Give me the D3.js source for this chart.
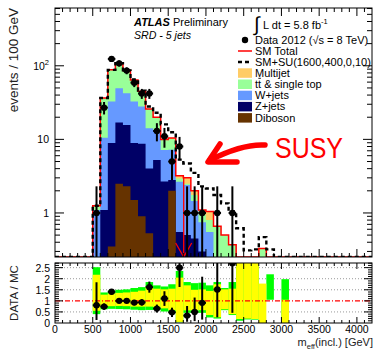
<!DOCTYPE html>
<html>
<head>
<meta charset="utf-8">
<script src="https://cdn.jsdelivr.net/npm/d3@7"></script>
<style>
  html, body { margin: 0; padding: 0; background: #fff; }
  svg { display: block; font-family: "Liberation Sans", Arial, Helvetica, sans-serif; }
</style>
</head>
<body>
<svg id="chart" width="379" height="350"></svg>
<script>
// ---- m_eff bins: lower edges, 100 GeV wide ----
const binLow = d3.range(500, 3000, 100);
const binWidth = 100;

// ---- background expectation per bin (events / 100 GeV), stacked bottom -> top ----
const diboson  = [0, 0, 0.35, 2.5, 2.3, 1.5, 0.9, 0.53, 0, 0, 2.0, 0, 0, 0, 0, 0, 0, 0, 0, 0, 0, 0, 0, 0, 0];
const zjets    = [0, 1.1, 8.55, 14.4, 13.4, 7.4, 7.8, 3.5, 5.26, 2.67, 0.8, 0.55, 0.5, 0.45, 0.3, 0.2, 0, 0, 0, 0, 0, 0, 0, 0, 0];
const wjets    = [1.1, 9.4, 23.8, 32.8, 26.8, 23.8, 19.3, 10.1, 8.2, 4.5, 4.4, 2.1, 1.9, 1.0, 0.45, 0.35, 0, 0, 0, 0, 0, 0, 0, 0, 0];
const ttbar    = [0.15, 26, 55.3, 58.3, 43.5, 31.3, 17, 11.8, 6.5, 2.8, 2.9, 0.3, 0.1, 0.3, 0.2, 0.25, 0.66, 0.5, 0.37, 0.15, 0.1, 0.12, 0.33, 0, 0];
const multijet = [0, 0, 0, 0, 0, 0, 0, 0, 0, 0, 0.3, 0.25, 0.5, 0.25, 0.15, 0.25, 0, 0, 0, 0, 0, 0, 0, 0, 0];

// ---- SM + SU(1600,400,0,10) total ----
const smPlusSusy = [1.25, 36.5, 88, 108.5, 86.5, 65, 46, 28, 23, 16, 12.5, 5.3, 4.7, 3.5, 2.3, 2.15, 1.75, 1.35, 1.05, 0.62, 0.31, 0.32, 0.47, 0.32, 0];

// ---- data 2012 ----
const dataCounts = [1, 27, 124, 108, 86, 59, 42, 42, 13, 11, 5, 8, 1, 1, 1, 0, 1, 0, 1, 0, 0, 0, 0, 0, 0];
const dataErrLo  = [0.83, 5.2, 11.1, 10.4, 9.3, 7.7, 6.5, 6.5, 3.6, 3.3, 2.2, 2.8, 0.83, 0.83, 0.83, 0, 0.83, 0, 0.83, 0, 0, 0, 0, 0, 0];
const dataErrHi  = [1.3, 5.2, 11.1, 10.4, 9.3, 7.7, 6.5, 6.5, 3.6, 3.3, 2.2, 2.8, 1.3, 1.3, 1.3, 0, 1.3, 0, 1.3, 0, 0, 0, 0, 0, 0];

// ---- uncertainty bands of the DATA / MC panel (bins 500 ... 3000) ----
const bandLow  = d3.range(500, 3100, 100);
const yellowLo = [0.55, 0.74, 0.76, 0.77, 0.76, 0.74, 0.74, 0.74, 0.72, 0.66, 0.58, 0.05, 0.57, 0.58, 0.58, 0.36, 0.26, 0.62, 0.40, 0.18, 0.20, 0.18, 0, null, null, 0];
const yellowHi = [2.18, 1.28, 1.33, 1.36, 1.38, 1.41, 1.46, 1.65, 1.55, 1.52, 1.55, 2.05, 1.70, 1.50, 1.52, 1.45, 1.75, 1.52, 1.55, 3, 3, 3, 1.78, null, null, 1.05];
const greenLo  = [0.40, 0.62, 0.64, 0.63, 0.62, 0.60, 0.58, 0.59, 0.60, 0.52, 0.48, 0.03, 0.46, 0.45, 0.46, 0.25, 0.20, 0.58, 0.36, 0.10, 0.16, 0.15, null, 1.05, null, 0];
const greenHi  = [2.52, 1.38, 1.47, 1.50, 1.52, 1.58, 1.62, 1.85, 1.70, 1.65, 1.75, 2.35, 1.85, 1.80, 1.82, 1.70, 1.85, 1.58, 1.85, 3, 3, 3, null, 2.20, null, 1.98];

// ---- axis ticks ----
const xTickLabels = [0, 500, 1000, 1500, 2000, 2500, 3000, 3500, 4000];
const yMainLabels = [1, 10, 100];
const yRatioLabels = [0, 0.5, 1, 1.5, 2, 2.5];

// ---- annotation ----
const arrowMass = 1705, arrowTop = 3.1;

// ================= drawing =================
const svg = d3.select("#chart");
const L = 55, R = 372, T = 8, B = 257, T2 = 263, B2 = 323;
const x = d3.scaleLinear().domain([0, 4200]).range([L, R]);
const yMin = 0.252, yMax = 610;
const y = d3.scaleLog().domain([yMin, yMax]).range([B, T]);
const yr = d3.scaleLinear().domain([0, 2.71]).range([B2, T2]);
const yc = v => y(Math.max(v, yMin)); // entries under the axis sit on the lower edge

const defs = svg.append("defs");
defs.append("clipPath").attr("id", "clipMain").append("rect")
  .attr("x", L).attr("y", T).attr("width", R - L).attr("height", B - T);
defs.append("clipPath").attr("id", "clipRatio").append("rect")
  .attr("x", L).attr("y", T2).attr("width", R - L).attr("height", B2 - T2);

// stacked backgrounds
const layers = [
  { name: "Diboson", values: diboson, color: "#663300" },
  { name: "Z+jets", values: zjets, color: "#000066" },
  { name: "W+jets", values: wjets, color: "#6699ff" },
  { name: "ttbar", values: ttbar, color: "#99ff99" },
  { name: "Multijet", values: multijet, color: "#ffcc66" }
];
let running = binLow.map(() => 0);
layers.forEach(l => { running = running.map((r, i) => r + l.values[i]); l.cum = running.slice(); });
const smTotal = layers[layers.length - 1].cum;

const lastEdge = binLow[binLow.length - 1] + binWidth;
const stepPts = vals => binLow.map((b, i) => [b, vals[i]]).concat([[lastEdge, vals[vals.length - 1]]]);
const outlinePts = vals => [[0, 0]].concat(binLow.map((b, i) => [b, vals[i]]), [[lastEdge, 0], [4200, 0]]);

const area = d3.area().curve(d3.curveStepAfter).x(d => x(d[0])).y0(B).y1(d => yc(d[1]));
const line = d3.line().curve(d3.curveStepAfter).x(d => x(d[0])).y(d => yc(d[1]));

const gMain = svg.append("g").attr("clip-path", "url(#clipMain)");
layers.slice().reverse().forEach(l => {
  gMain.append("path").attr("d", area(stepPts(l.cum))).attr("fill", l.color);
});
gMain.append("path").attr("d", line(outlinePts(smTotal)))
  .attr("fill", "none").attr("stroke", "#ff0000").attr("stroke-width", 1.5);
gMain.append("path").attr("d", line(outlinePts(smPlusSusy)))
  .attr("fill", "none").attr("stroke", "#000").attr("stroke-width", 2.4).attr("stroke-dasharray", "4,3");

// red arrow
const ax = x(arrowMass);
gMain.append("path")
  .attr("d", `M${ax},${y(arrowTop)}L${ax},${B}M${ax - 8},${B - 14}L${ax},${B}L${ax + 8},${B - 14}`)
  .attr("fill", "none").attr("stroke", "#ff0000").attr("stroke-width", 1.3);

// data points
const dataIdx = binLow.map((b, i) => i).filter(i => dataCounts[i] > 0);
const gData = svg.append("g").attr("clip-path", "url(#clipMain)");
dataIdx.forEach(i => {
  const cx = x(binLow[i] + binWidth / 2), cy = y(dataCounts[i]);
  gData.append("line").attr("x1", cx).attr("x2", cx)
    .attr("y1", yc(dataCounts[i] - dataErrLo[i])).attr("y2", yc(dataCounts[i] + dataErrHi[i]))
    .attr("stroke", "#000").attr("stroke-width", 2);
  gData.append("line").attr("x1", x(binLow[i])).attr("x2", x(binLow[i] + binWidth))
    .attr("y1", cy).attr("y2", cy).attr("stroke", "#000").attr("stroke-width", 2);
  gData.append("circle").attr("cx", cx).attr("cy", cy).attr("r", 3.2).attr("fill", "#000");
});

// ---- ratio panel ----
const gRatio = svg.append("g").attr("clip-path", "url(#clipRatio)");
[0.5, 1.5, 2, 2.5].forEach(v => {
  gRatio.append("line").attr("x1", L).attr("x2", R).attr("y1", yr(v)).attr("y2", yr(v))
    .attr("stroke", "#999").attr("stroke-width", 1).attr("stroke-dasharray", "1,2");
});
bandLow.forEach((b, i) => {
  if (greenLo[i] !== null) gRatio.append("rect").attr("x", x(b)).attr("width", x(b + binWidth) - x(b))
    .attr("y", yr(greenHi[i])).attr("height", yr(greenLo[i]) - yr(greenHi[i])).attr("fill", "#00ff00");
});
bandLow.forEach((b, i) => {
  if (yellowLo[i] !== null) gRatio.append("rect").attr("x", x(b)).attr("width", x(b + binWidth) - x(b))
    .attr("y", yr(yellowHi[i])).attr("height", yr(yellowLo[i]) - yr(yellowHi[i])).attr("fill", "#ffff00");
});
gRatio.append("line").attr("x1", L).attr("x2", R).attr("y1", yr(1)).attr("y2", yr(1))
  .attr("stroke", "#ff0000").attr("stroke-width", 1.2).attr("stroke-dasharray", "5,2,1,2");
dataIdx.forEach(i => {
  const r = dataCounts[i] / smTotal[i];
  const cx = x(binLow[i] + binWidth / 2), cy = yr(r);
  gRatio.append("line").attr("x1", cx).attr("x2", cx)
    .attr("y1", yr((dataCounts[i] - dataErrLo[i]) / smTotal[i]))
    .attr("y2", yr((dataCounts[i] + dataErrHi[i]) / smTotal[i]))
    .attr("stroke", "#000").attr("stroke-width", 2);
  gRatio.append("line").attr("x1", x(binLow[i])).attr("x2", x(binLow[i] + binWidth))
    .attr("y1", cy).attr("y2", cy).attr("stroke", "#000").attr("stroke-width", 2);
  gRatio.append("circle").attr("cx", cx).attr("cy", cy).attr("r", 3.2).attr("fill", "#000");
});

// ---- frames and ticks ----
const gAx = svg.append("g").attr("stroke", "#000").attr("stroke-width", 1).attr("fill", "none");
gAx.append("rect").attr("x", L).attr("y", T).attr("width", R - L).attr("height", B - T);
gAx.append("rect").attr("x", L).attr("y", T2).attr("width", R - L).attr("height", B2 - T2);

const xMinor = d3.range(100, 4200, 100);
function xTicks(yTop, yBot, major, minor) {
  xMinor.forEach(v => {
    const len = v % 500 === 0 ? major : minor;
    gAx.append("line").attr("x1", x(v)).attr("x2", x(v)).attr("y1", yBot).attr("y2", yBot - len);
    gAx.append("line").attr("x1", x(v)).attr("x2", x(v)).attr("y1", yTop).attr("y2", yTop + len);
  });
}
xTicks(T, B, 8, 4);
xTicks(T2, B2, 6, 3);

// log ticks of the main panel
const logTicks = [];
for (let e = -1; e <= 2; e++) for (let k = 1; k <= 9; k++) {
  const v = k * Math.pow(10, e);
  if (v >= yMin && v <= yMax) logTicks.push({ v, major: k === 1 });
}
logTicks.forEach(t => {
  const len = t.major ? 9 : 5;
  gAx.append("line").attr("x1", L).attr("x2", L + len).attr("y1", y(t.v)).attr("y2", y(t.v));
  gAx.append("line").attr("x1", R).attr("x2", R - len).attr("y1", y(t.v)).attr("y2", y(t.v));
});
// ratio y ticks
d3.range(0.1, 2.71, 0.1).forEach(v => {
  const major = Math.abs(v * 2 - Math.round(v * 2)) < 1e-6;
  const len = major ? 8 : 4;
  gAx.append("line").attr("x1", L).attr("x2", L + len).attr("y1", yr(v)).attr("y2", yr(v));
  gAx.append("line").attr("x1", R).attr("x2", R - len).attr("y1", yr(v)).attr("y2", yr(v));
});

// ---- labels ----
const tick = svg.append("g").attr("font-size", 10.5).attr("fill", "#000");
xTickLabels.forEach(v => {
  tick.append("text").attr("x", x(v)).attr("y", 333).attr("text-anchor", "middle").text(v);
});
yMainLabels.forEach(v => {
  const t = tick.append("text").attr("x", 49).attr("y", y(v) + 4).attr("text-anchor", "end");
  const exp = Math.round(Math.log10(v));
  if (exp >= 2) {
    t.text("10");
    t.append("tspan").attr("font-size", 7.5).attr("dy", -5).text(String(exp));
  } else {
    t.text(v);
  }
});
yRatioLabels.forEach(v => {
  tick.append("text").attr("x", 50).attr("y", yr(v) + 4).attr("text-anchor", "end").text(v);
});

svg.append("text").attr("transform", `translate(18,${T}) rotate(-90)`).attr("text-anchor", "end")
  .attr("font-size", 13.5).attr("fill", "#222").text("events / 100 GeV");
svg.append("text").attr("transform", `translate(18,${(T2 + B2) / 2}) rotate(-90)`).attr("text-anchor", "middle")
  .attr("font-size", 11.5).attr("fill", "#222").text("DATA / MC");

const xt = svg.append("text").attr("x", 373).attr("y", 346).attr("text-anchor", "end")
  .attr("font-size", 11).attr("fill", "#222");
xt.append("tspan").text("m");
xt.append("tspan").attr("font-size", 7.5).attr("dy", 3).text("eff");
xt.append("tspan").attr("dy", -3).text("(incl.) [GeV]");

// ATLAS label
const atl = svg.append("text").attr("x", 134).attr("y", 26).attr("font-size", 11);
atl.append("tspan").attr("font-weight", "bold").attr("font-style", "italic").text("ATLAS");
atl.append("tspan").text(" Preliminary");
svg.append("text").attr("x", 134).attr("y", 39).attr("font-size", 10.6).attr("font-style", "italic").text("SRD - 5 jets");

// ---- legend ----
const lg = svg.append("g").attr("font-size", 11);
lg.append("text").attr("x", 254).attr("y", 31).attr("font-size", 20).text("\u222B");
const lum = lg.append("text").attr("x", 263).attr("y", 29);
lum.append("tspan").text("L dt = 5.8 fb");
lum.append("tspan").attr("font-size", 7.5).attr("dy", -5).text("-1");

lg.append("circle").attr("cx", 245).attr("cy", 40).attr("r", 3.2).attr("fill", "#000");
lg.append("text").attr("x", 255).attr("y", 44).text("Data 2012 (\u221As = 8 TeV)");
lg.append("line").attr("x1", 238).attr("x2", 252).attr("y1", 51).attr("y2", 51)
  .attr("stroke", "#ff0000").attr("stroke-width", 1.5);
lg.append("text").attr("x", 255).attr("y", 55).text("SM Total");
lg.append("line").attr("x1", 238).attr("x2", 252).attr("y1", 62).attr("y2", 62)
  .attr("stroke", "#000").attr("stroke-width", 2.4).attr("stroke-dasharray", "4,3");
lg.append("text").attr("x", 255).attr("y", 66).text("SM+SU(1600,400,0,10)");

const legendRows = [
  { key: "Multijet", label: "Multijet" },
  { key: "ttbar", label: "tt & single top", barChar: 1 },
  { key: "W+jets", label: "W+jets" },
  { key: "Z+jets", label: "Z+jets" },
  { key: "Diboson", label: "Diboson" }
];
legendRows.forEach((row, k) => {
  const layer = layers.find(l => l.name === row.key);
  const top = 68.3 + k * 11.2;
  lg.append("rect").attr("x", 238).attr("y", top).attr("width", 14).attr("height", 9.5).attr("fill", layer.color);
  const t = lg.append("text").attr("x", 255).attr("y", top + 8.5).text(row.label);
  if (row.barChar !== undefined) {
    // anti-top bar over the second "t"
    const ext = t.node().getExtentOfChar(row.barChar);
    lg.append("line").attr("x1", ext.x + 0.3).attr("x2", ext.x + ext.width - 0.3)
      .attr("y1", top - 1.2).attr("y2", top - 1.2).attr("stroke", "#000").attr("stroke-width", 0.9);
  }
});

// ---- SUSY annotation ----
svg.append("path").attr("d", "M265,145 C250,144 232,149 210,160")
  .attr("fill", "none").attr("stroke", "#ff0000").attr("stroke-width", 5.5).attr("stroke-linecap", "round");
svg.append("path").attr("d", "M220,144 L208,162 L237,162")
  .attr("fill", "none").attr("stroke", "#ff0000").attr("stroke-width", 5.5)
  .attr("stroke-linecap", "round").attr("stroke-linejoin", "round");
svg.append("text").attr("x", 275).attr("y", 158).attr("font-size", 29).attr("fill", "#ff0000")
  .attr("textLength", 68).attr("lengthAdjust", "spacingAndGlyphs").text("SUSY");
</script>
</body>
</html>
